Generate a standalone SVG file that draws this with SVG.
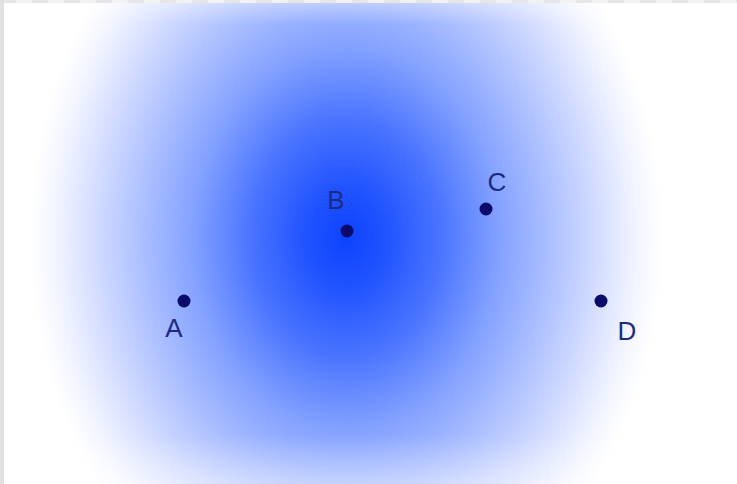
<svg xmlns="http://www.w3.org/2000/svg" width="737" height="484" viewBox="0 0 737 484">
  <style>
    .pt { fill: #0a0a6a; }
    .lbl { font-family: "Liberation Sans", Arial, sans-serif; font-size: 26px; fill: #1e2a82; text-anchor: middle; }
  </style>
  <defs>
    <radialGradient id="glow" gradientUnits="userSpaceOnUse" cx="0" cy="0" r="1" gradientTransform="translate(346 238) scale(316 395)">
      <stop offset="0" stop-color="#0d43ff"/>
      <stop offset="0.12" stop-color="#1f52ff"/>
      <stop offset="0.3" stop-color="#4a74ff"/>
      <stop offset="0.48" stop-color="#82a0ff"/>
      <stop offset="0.63" stop-color="#a8bcff"/>
      <stop offset="0.8" stop-color="#d4ddff"/>
      <stop offset="0.93" stop-color="#f4f6ff"/>
      <stop offset="1" stop-color="#ffffff"/>
    </radialGradient>
    <linearGradient id="edgefade" x1="0" y1="0" x2="0" y2="484" gradientUnits="userSpaceOnUse">
      <stop offset="0" stop-color="#ffffff" stop-opacity="0.35"/>
      <stop offset="0.05" stop-color="#ffffff" stop-opacity="0"/>
      <stop offset="0.9" stop-color="#ffffff" stop-opacity="0"/>
      <stop offset="1" stop-color="#ffffff" stop-opacity="0.35"/>
    </linearGradient>
  </defs>
  <rect width="737" height="484" fill="#ffffff"/>
  <rect width="737" height="484" fill="url(#glow)"/>
  <rect width="737" height="484" fill="url(#edgefade)"/>
  <rect x="0" y="0" width="737" height="3" fill="#f2f2f2"/>
  <line x1="0" y1="1.5" x2="737" y2="1.5" stroke="#e6e6e6" stroke-width="3" stroke-dasharray="16 16"/>
  <rect x="0" y="0" width="4" height="484" fill="#e0e0e0"/>

  <g id="A">
    <circle class="pt" cx="184" cy="301" r="6.5"/>
    <text class="lbl" x="174" y="337">A</text>
  </g>
  <g id="B">
    <circle class="pt" cx="347" cy="231" r="6.5"/>
    <text class="lbl" x="336" y="209">B</text>
  </g>
  <g id="C">
    <circle class="pt" cx="486" cy="209" r="6.5"/>
    <text class="lbl" x="497" y="191">C</text>
  </g>
  <g id="D">
    <circle class="pt" cx="601" cy="301" r="6.5"/>
    <text class="lbl" x="627" y="340">D</text>
  </g>
</svg>
